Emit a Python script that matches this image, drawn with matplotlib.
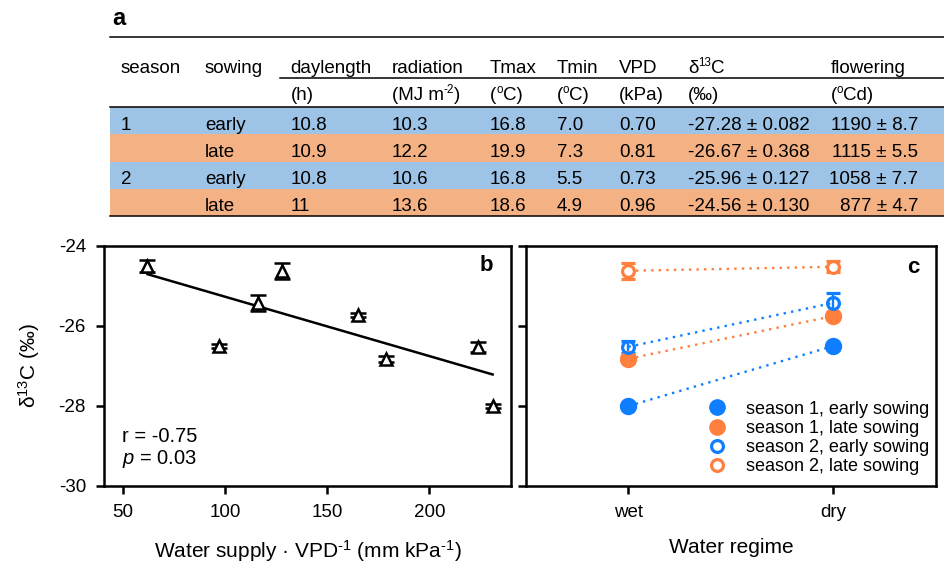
import numpy as np
import matplotlib
matplotlib.use("Agg")
import matplotlib.pyplot as plt
from matplotlib.patches import Rectangle

plt.rcParams['font.family'] = ['Liberation Sans', 'DejaVu Sans']
plt.rcParams['mathtext.fontset'] = 'custom'
plt.rcParams['mathtext.rm'] = 'Liberation Sans'
plt.rcParams['mathtext.it'] = 'Liberation Sans:italic'
plt.rcParams['mathtext.bf'] = 'Liberation Sans:bold'
plt.rcParams['axes.unicode_minus'] = False

tab_fs = 13.5

# ---- table (panel a) ----
season = ['1', '', '2', '']
sowing = ['early', 'late', 'early', 'late']
daylength = [10.8, 10.9, 10.8, 11]
radiation = [10.3, 12.2, 10.6, 13.6]
tmax = [16.8, 19.9, 16.8, 18.6]
tmin = [7.0, 7.3, 5.5, 4.9]
vpd = [0.70, 0.81, 0.73, 0.96]
d13c_mean = [-27.28, -26.67, -25.96, -24.56]
d13c_se = [0.082, 0.368, 0.127, 0.130]
flowering = [1190, 1115, 1058, 877]
flowering_se = [8.7, 5.5, 7.7, 4.7]

# header pieces: (text, superscript?)
headers = [[('season', 0)], [('sowing', 0)], [('daylength', 0)], [('radiation', 0)],
           [('Tmax', 0)], [('Tmin', 0)], [('VPD', 0)],
           [('δ', 0), ('13', 1), ('C', 0)], [('flowering', 0)]]
units = [[], [], [('(h)', 0)], [('(MJ m', 0), ('-2', 1), (')', 0)],
         [('(', 0), ('o', 1), ('C)', 0)], [('(', 0), ('o', 1), ('C)', 0)],
         [('(kPa)', 0)], [('(‰)', 0)], [('(', 0), ('o', 1), ('Cd)', 0)]]
row_colors = ['#9DC3E6', '#F4B183', '#9DC3E6', '#F4B183']

# ---- panel b ----
supply_vpd = [62, 97, 116, 128, 165, 179, 224, 231]
d13c_b = [-24.50, -26.50, -25.43, -24.62, -25.72, -26.82, -26.52, -28.00]
d13c_b_err = [0.16, 0.05, 0.20, 0.20, 0.05, 0.07, 0.13, 0.04]

# ---- panel c ----
regimes = ['wet', 'dry']
series = ['season 1, early sowing', 'season 1, late sowing',
          'season 2, early sowing', 'season 2, late sowing']
d13c_c = [[-28.00, -26.50], [-26.82, -25.75], [-26.52, -25.42], [-24.62, -24.52]]
d13c_c_err = [[0.04, 0.05], [0.06, 0.07], [0.15, 0.25], [0.20, 0.14]]

blue = '#0F7EFF'
orange = '#FF7F3F'

fig = plt.figure(figsize=(9.45, 5.66), dpi=100)
renderer = fig.canvas.get_renderer()

# overlay axes in pixel coordinates for the table
tab = fig.add_axes([0, 0, 1, 1])
tab.set_xlim(0, 945)
tab.set_ylim(566, 0)
tab.axis('off')


def pieces(x, y, parts):
    for s, sup in parts:
        fsz = tab_fs * 0.62 if sup else tab_fs
        yy = y - tab_fs * 0.55 if sup else y
        t = tab.text(x, yy, s, fontsize=fsz, va='baseline')
        x += t.get_window_extent(renderer).width


tab.text(112, 25, 'a', fontsize=17, fontweight='bold', va='baseline')
row_edges = [106.7, 134, 161.5, 189, 216]
for i, c in enumerate(row_colors):
    tab.add_patch(Rectangle((110, row_edges[i]), 835, row_edges[i + 1] - row_edges[i],
                            color=c, lw=0))
tab.plot([110, 945], [37.3, 37.3], color='black', lw=1.1)
tab.plot([280, 945], [78.3, 78.3], color='black', lw=1.1)
tab.plot([110, 945], [106.7, 106.7], color='black', lw=1.1)
tab.plot([110, 945], [216, 216], color='black', lw=1.1)

col_x = [120.5, 205, 290.5, 391.5, 490, 556.5, 619, 688, 830.5]
for x, h, u in zip(col_x, headers, units):
    pieces(x, 73.3, h)
    pieces(x, 100, u)

baselines = [130, 157, 184, 211]
for i in range(4):
    cells = [season[i], sowing[i], f'{daylength[i]:g}', f'{radiation[i]:.1f}',
             f'{tmax[i]:.1f}', f'{tmin[i]:.1f}', f'{vpd[i]:.2f}',
             f'{d13c_mean[i]:.2f} ± {d13c_se[i]:.3f}']
    for x, s in zip(col_x, cells):
        tab.text(x, baselines[i], s, fontsize=tab_fs, va='baseline')
    tab.text(918, baselines[i], f'{flowering[i]} ± {flowering_se[i]:.1f}',
             fontsize=tab_fs, va='baseline', ha='right')

# ---- panel b ----
axb = fig.add_axes([104 / 945, 1 - 486 / 566, (511 - 104) / 945, 240 / 566])
axb.errorbar(supply_vpd, d13c_b, yerr=d13c_b_err, fmt='^', ms=8, mfc='white',
             mec='black', mew=1.8, ecolor='black', elinewidth=1.8, capsize=6,
             capthick=1.8, zorder=3)
slope, icpt = np.polyfit(supply_vpd, d13c_b, 1)
xf = np.array([min(supply_vpd), max(supply_vpd)])
axb.plot(xf, slope * xf + icpt, color='black', lw=1.8, zorder=2)
axb.set_xlim(40.7, 240)
axb.set_ylim(-30, -24)
axb.set_xticks([50, 100, 150, 200])
axb.set_yticks([-30, -28, -26, -24])
axb.text(0.045, 0.185, 'r = -0.75', transform=axb.transAxes, fontsize=14.5)
axb.text(0.045, 0.09, r'$\mathit{p}$ = 0.03', transform=axb.transAxes, fontsize=14.5)
axb.text(0.94, 0.92, 'b', transform=axb.transAxes, fontsize=16, fontweight='bold',
         ha='center', va='center')
axb.set_xlabel(r'Water supply · VPD$^{\text{-1}}$ (mm kPa$^{\text{-1}}$)',
               fontsize=15, labelpad=12)
axb.set_ylabel(r'δ$^{\text{13}}$C (‰)', fontsize=15, labelpad=12)

# ---- panel c ----
axc = fig.add_axes([526 / 945, 1 - 486 / 566, (936 - 526) / 945, 240 / 566])
xc = np.arange(len(regimes))
styles = [(blue, True), (orange, True), (blue, False), (orange, False)]
for lab, y, e, (col, filled) in zip(series, d13c_c, d13c_c_err, styles):
    axc.plot(xc, y, linestyle=(0, (1, 2.2)), color=col, lw=1.7, zorder=2)
    if filled:
        axc.errorbar(xc, y, yerr=e, fmt='o', ms=11.5, color=col, mec=col,
                     elinewidth=1.7, capsize=5, capthick=1.7, zorder=3)
        axc.plot([], [], 'o', ms=11, color=col, label=lab)
    else:
        face = 'none' if col == blue else 'white'
        axc.errorbar(xc, y, yerr=e, fmt='o', ms=8.5, mfc=face, mec=col, mew=2.3,
                     ecolor=col, elinewidth=1.7, capsize=5, capthick=1.7, zorder=3)
        axc.plot([], [], 'o', ms=8.5, mfc='white', mec=col, mew=2.3, label=lab)
axc.set_xlim(-0.5, 1.5)
axc.set_ylim(-30, -24)
axc.set_xticks(xc)
axc.set_xticklabels(regimes)
axc.set_yticks([-30, -28, -26, -24])
axc.set_yticklabels([])
axc.text(0.945, 0.91, 'c', transform=axc.transAxes, fontsize=16, fontweight='bold',
         ha='center', va='center')
axc.set_xlabel('Water regime', fontsize=15, labelpad=12)
axc.legend(loc='lower left', bbox_to_anchor=(0.445, 0.045), frameon=False,
           fontsize=13, handlelength=1.0, handletextpad=1.1, labelspacing=0.12,
           borderpad=0, borderaxespad=0)

for ax in (axb, axc):
    for s in ax.spines.values():
        s.set_linewidth(1.8)
    ax.tick_params(direction='out', length=6, width=1.8, labelsize=13.5, pad=7)

fig.savefig('out.png', dpi=100)
